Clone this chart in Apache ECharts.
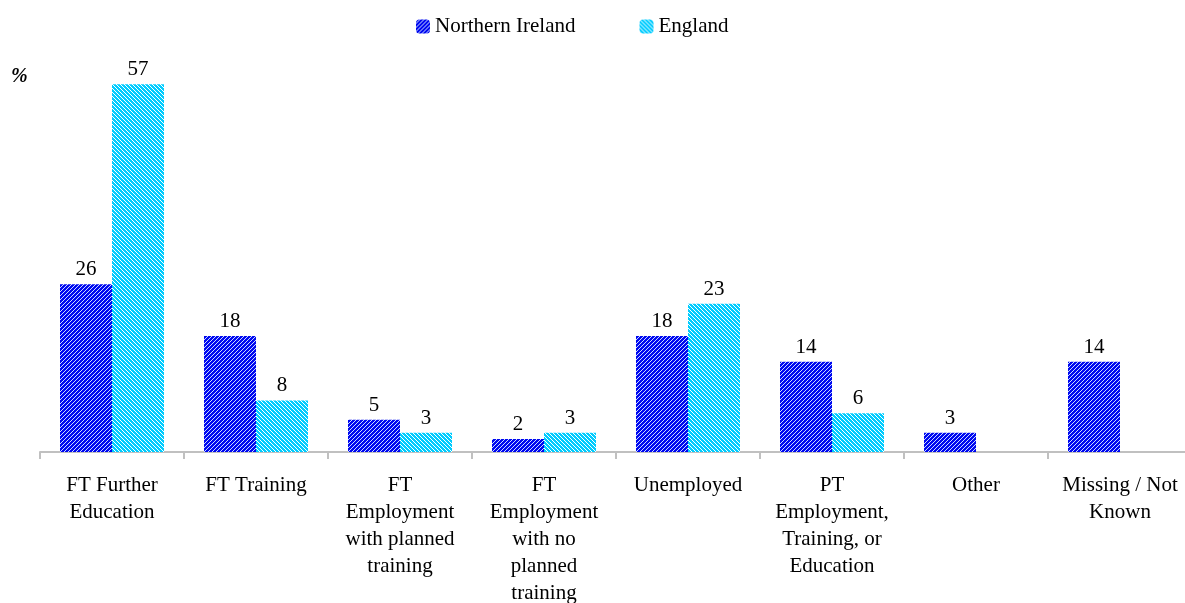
<!DOCTYPE html>
<html>
<head>
<meta charset="utf-8">
<script src="https://cdn.jsdelivr.net/npm/echarts@6/dist/echarts.min.js"></script>
<style>
  html, body { margin: 0; padding: 0; background: #fff; }
</style>
</head>
<body>
<div id="chart-container" style="width: 1185px; height: 603px"></div>
<script>
const categories = [
  "FT Further\nEducation",
  "FT Training",
  "FT\nEmployment\nwith planned\ntraining",
  "FT\nEmployment\nwith no\nplanned\ntraining",
  "Unemployed",
  "PT\nEmployment,\nTraining, or\nEducation",
  "Other",
  "Missing / Not\nKnown",
];
const northernIreland = [26, 18, 5, 2, 18, 14, 3, 14];
const england = [57, 8, 3, 3, 23, 6, null, null];

// hatched fills, like the original
function hatch(bg, line, forward) {
  const c = document.createElement("canvas");
  c.width = 4;
  c.height = 4;
  const ctx = c.getContext("2d");
  ctx.fillStyle = bg;
  ctx.fillRect(0, 0, 4, 4);
  ctx.fillStyle = line;
  for (let i = 0; i < 4; i++) {
    const x = forward ? 3 - i : i;
    ctx.fillRect(x, i, 1, 1);
  }
  return { image: c, repeat: "repeat" };
}

const niFill = hatch("#0008f0", "#c8d8ff", true);
const enFill = hatch("#00ccff", "#ffffff", false);

const labelStyle = {
  show: true,
  position: "top",
  color: "#000",
  fontFamily: "Liberation Serif",
  fontSize: 21,
  distance: 4,
};

const myChart = echarts.init(document.getElementById("chart-container"));
myChart.setOption({
  animation: false,
  textStyle: { fontFamily: "Liberation Serif" },
  legend: {
    top: 11,
    left: 411,
    itemWidth: 14,
    itemHeight: 14,
    itemGap: 64,
    textStyle: { fontFamily: "Liberation Serif", fontSize: 21, color: "#000" },
    data: ["Northern Ireland", "England"],
  },
  graphic: [
    {
      type: "text",
      left: 11,
      top: 67,
      style: {
        text: "%",
        font: "italic bold 20px 'Liberation Serif'",
        fill: "#000",
      },
    },
  ],
  grid: { left: 40, top: 65, width: 1152, height: 387, outerBoundsMode: "none" },
  xAxis: {
    type: "category",
    data: categories,
    axisLine: { lineStyle: { color: "#c0c0c0", width: 2 } },
    axisTick: { show: true, length: 7, lineStyle: { color: "#c0c0c0", width: 2 } },
    axisLabel: {
      interval: 0,
      color: "#000",
      fontFamily: "Liberation Serif",
      fontSize: 21,
      lineHeight: 27,
      margin: 20,
    },
  },
  yAxis: {
    type: "value",
    min: 0,
    max: 60,
    show: false,
    splitLine: { show: false },
  },
  series: [
    {
      name: "Northern Ireland",
      type: "bar",
      barWidth: 52,
      barGap: "0%",
      itemStyle: { color: niFill },
      label: labelStyle,
      data: northernIreland,
    },
    {
      name: "England",
      type: "bar",
      barWidth: 52,
      itemStyle: { color: enFill },
      label: labelStyle,
      data: england,
    },
  ],
});
</script>
</body>
</html>
